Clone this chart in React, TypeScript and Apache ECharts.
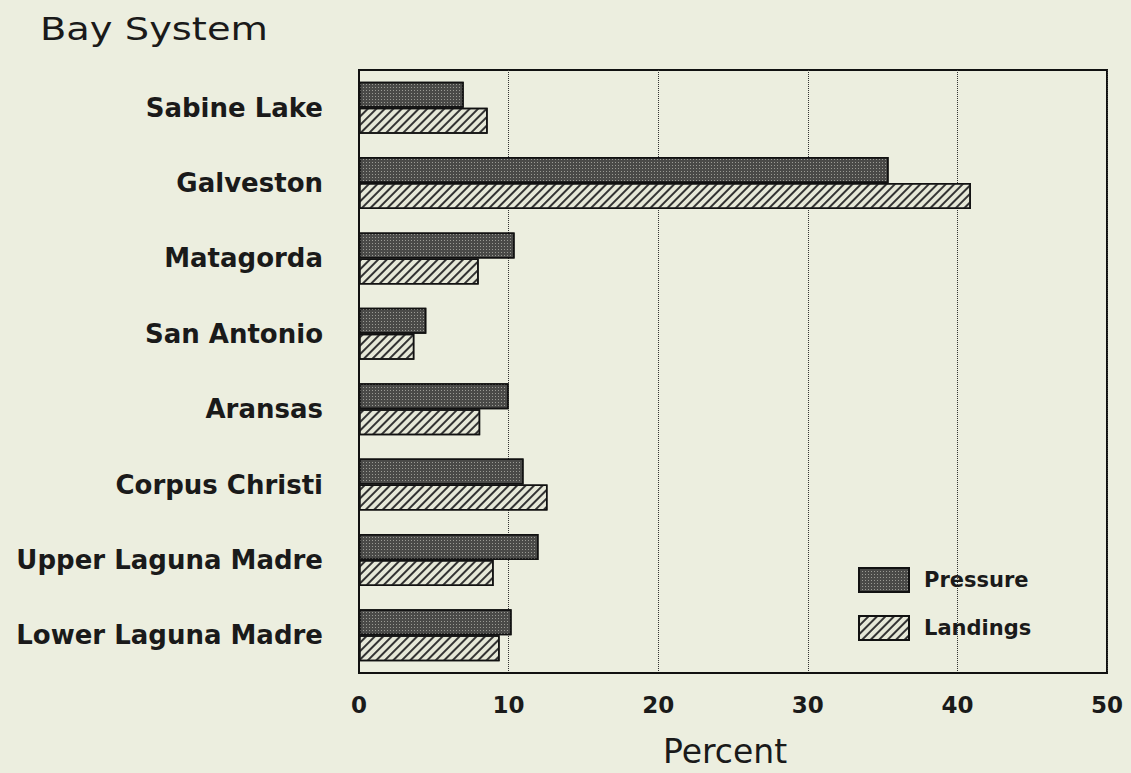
import React, { useEffect, useRef } from "react";
import * as echarts from "echarts";

const categories = [
  "Sabine Lake",
  "Galveston",
  "Matagorda",
  "San Antonio",
  "Aransas",
  "Corpus Christi",
  "Upper Laguna Madre",
  "Lower Laguna Madre",
];
const pressure = [7.0, 35.4, 10.4, 4.5, 10.0, 11.0, 12.0, 10.2];
const landings = [8.6, 40.9, 8.0, 3.7, 8.1, 12.6, 9.0, 9.4];
const xTicks = [0, 10, 20, 30, 40, 50];

const FONT = "'DejaVu Sans', 'Liberation Sans', Arial, sans-serif";

export default function App() {
  const ref = useRef<HTMLDivElement>(null);
  useEffect(() => {
    if (!ref.current) return;
    document.body.style.margin = "0";
    document.body.style.background = "#eceedf";
    const chart = echarts.init(ref.current, undefined, { renderer: "svg" });
    chart.setOption({
      animation: false,
      backgroundColor: "#eceedf",
      textStyle: { fontFamily: FONT },
      graphic: [
        {
          type: "text",
          x: 40,
          y: 13,
          scaleX: 1.2,
          style: { text: "Bay System", font: `32px ${FONT}`, fill: "#1a1a1a" },
        },
      ],
      legend: {
        orient: "vertical",
        left: 853,
        top: 562,
        icon: "rect",
        itemWidth: 50,
        itemHeight: 24,
        itemGap: 22,
        textStyle: { fontSize: 21, fontWeight: "bold", color: "#1a1a1a", fontFamily: FONT, padding: [0, 0, 0, 10] },
        data: ["Pressure", "Landings"],
      },
      grid: {
        left: 359,
        right: 24,
        top: 70,
        bottom: 98,
        show: true,
        borderColor: "#111",
        borderWidth: 2,
        backgroundColor: "transparent",
      },
      xAxis: {
        type: "value",
        min: xTicks[0],
        max: xTicks[xTicks.length - 1],
        interval: 10,
        name: "Percent",
        nameLocation: "middle",
        nameGap: 62,
        nameTextStyle: { fontSize: 33, color: "#1a1a1a", fontFamily: FONT, padding: [0, 16, 0, 0] },
        axisLine: { show: true, lineStyle: { color: "#111", width: 2 } },
        axisTick: { show: false },
        axisLabel: { fontSize: 23, fontWeight: "bold", color: "#1a1a1a", margin: 20, fontFamily: FONT },
        splitLine: { show: true, lineStyle: { type: "dotted", color: "#333", width: 1 } },
      },
      yAxis: {
        type: "category",
        data: categories,
        inverse: true,
        axisLine: { show: true, lineStyle: { color: "#111", width: 2 } },
        axisTick: { show: false },
        axisLabel: { fontSize: 26, fontWeight: "bold", color: "#1a1a1a", margin: 36, fontFamily: FONT },
      },
      series: [
        {
          name: "Pressure",
          type: "bar",
          data: pressure,
          barGap: "0%",
          barCategoryGap: "31%",
          itemStyle: {
            color: "#4a4a48",
            borderColor: "#111",
            borderWidth: 1.5,
            decal: {
              symbol: "rect",
              symbolSize: 1,
              color: "#9a9a94",
              dashArrayX: [1, 2],
              dashArrayY: [1, 2],
              rotation: 0,
            },
          },
        },
        {
          name: "Landings",
          type: "bar",
          data: landings,
          itemStyle: {
            color: "#e6e8d8",
            borderColor: "#111",
            borderWidth: 1.5,
            decal: {
              symbol: "rect",
              symbolSize: 1,
              color: "#333",
              dashArrayX: [1, 0],
              dashArrayY: [1.5, 3.5],
              rotation: -Math.PI / 4,
            },
          },
        },
      ],
    });
    return () => chart.dispose();
  }, []);
  return <div ref={ref} style={{ position: "absolute", left: 0, top: 0, width: 1131, height: 773 }} />;
}
